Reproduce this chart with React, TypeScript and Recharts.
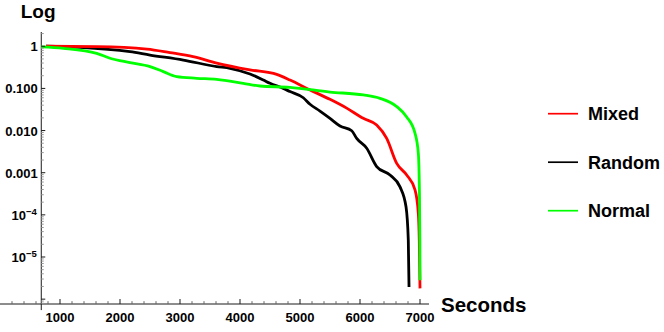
import React from 'react';
import { LineChart, Line, XAxis, YAxis, ReferenceLine, Legend } from 'recharts';

// ---------- data ----------
const mixedSeconds = [767, 1612, 2450, 2833, 3217, 3612, 4167, 4612, 4833, 5167, 5500, 5778, 6055, 6278, 6445, 6612, 6778, 6917, 6972, 6988, 7000];
const mixedValues = [1.0, 0.98, 0.86, 0.71, 0.57, 0.4, 0.275, 0.215, 0.158, 0.092, 0.055, 0.034, 0.0195, 0.0135, 0.0065, 0.00166, 0.00088, 0.00039, 0.000108, 0.000025, 0.0000018];

const randomSeconds = [767, 1333, 2167, 2500, 3055, 3612, 3833, 4167, 4389, 4500, 4722, 4833, 5055, 5167, 5333, 5500, 5667, 5862, 5945, 6112, 6278, 6500, 6667, 6767, 6805, 6817];
const randomValues = [1.0, 0.946, 0.744, 0.62, 0.47, 0.33, 0.3, 0.22, 0.158, 0.132, 0.1, 0.084, 0.06, 0.042, 0.029, 0.0195, 0.0128, 0.0099, 0.0065, 0.0038, 0.0014, 0.00088, 0.00046, 0.000155, 0.000025, 0.00000195];

const normalSeconds = [688, 1055, 1612, 1833, 2167, 2500, 2722, 2945, 3278, 3612, 4055, 4333, 4833, 5500, 6055, 6333, 6612, 6778, 6917, 6972, 6990, 6998, 7000];
const normalValues = [0.97, 0.896, 0.68, 0.52, 0.41, 0.33, 0.25, 0.19, 0.174, 0.164, 0.132, 0.114, 0.106, 0.082, 0.07, 0.058, 0.037, 0.021, 0.0086, 0.0029, 0.0004, 0.000025, 0.0000028];

const seriesNames = ['Mixed', 'Random', 'Normal'];
const seriesColors = ['#ff0000', '#000000', '#00ff00'];

const xMajorTicks = [1000, 2000, 3000, 4000, 5000, 6000, 7000];
const xMinorStep = 200;
const yMajorTicks = [1, 0.1, 0.01, 0.001, 0.0001, 0.00001];
const yMajorLabels = ['1', '0.100', '0.010', '0.001', '10^-4', '10^-5'];

const xTitle = 'Seconds';
const yTitle = 'Log';

// ---------- layout ----------
const W = 664;
const H = 332;
const Y_AXIS_W = 1;
const MARGIN = { top: 32, right: 235, bottom: 0, left: -Y_AXIS_W };
const X_AXIS_H = 28;
const PLOT_LEFT = MARGIN.left + Y_AXIS_W;
const PLOT_W = W - PLOT_LEFT - MARGIN.right;
const X_DOMAIN: [number, number] = [0, 7150];
const Y_DOMAIN: [number, number] = [7.67e-7, 2.18];
const Y_AXIS_AT = 688; // x value where the vertical axis crosses
const Y_AXIS_BOTTOM = 5.5e-7; // vertical axis overshoots a little below the x axis
const FONT = '"Liberation Sans", Arial, Helvetica, sans-serif';
const AXIS_COLOR = '#1a1a1a';

const yAxisPx = PLOT_LEFT + ((Y_AXIS_AT - X_DOMAIN[0]) / (X_DOMAIN[1] - X_DOMAIN[0])) * PLOT_W;

const toPoints = (xs: number[], ys: number[]) => xs.map((x, i) => ({ x, y: ys[i] }));
const mixedData = toPoints(mixedSeconds, mixedValues);
const randomData = toPoints(randomSeconds, randomValues);
const normalData = toPoints(normalSeconds, normalValues);
const seriesData = [mixedData, randomData, normalData];

const xTicks: number[] = [];
for (let v = xMinorStep; v <= 7000; v += xMinorStep) xTicks.push(v);

const yTicks: number[] = [];
for (let k = -7; k <= 0; k++) {
  for (let m = 1; m <= 9; m++) {
    const v = m * Math.pow(10, k);
    if (v >= Y_DOMAIN[0] && v <= Y_DOMAIN[1]) yTicks.push(Number(v.toPrecision(3)));
  }
}

const XTick = (props: any) => {
  const { x, y, payload } = props;
  const v = payload.value;
  const major = xMajorTicks.includes(v);
  return (
    <g>
      <line x1={x} x2={x} y1={y} y2={y - (major ? 5 : 2.8)} stroke={major ? AXIS_COLOR : '#666'} strokeWidth={1} />
      {major && (
        <text x={x} y={y + 17.7} textAnchor="middle" fontFamily={FONT} fontWeight="bold" fontSize={13} fill="#000">
          {v}
        </text>
      )}
    </g>
  );
};

const YTick = (props: any) => {
  const { y, payload } = props;
  const v = payload.value;
  const idx = yMajorTicks.findIndex((t) => Math.abs(t - v) / t < 1e-6);
  const major = idx >= 0 || Math.abs(v - 1e-6) / 1e-6 < 1e-6;
  const label = idx >= 0 ? yMajorLabels[idx] : null;
  let labelNode: React.ReactNode = null;
  if (label) {
    if (label.includes('^')) {
      const [base, exp] = label.split('^');
      labelNode = (
        <text x={yAxisPx - 4.5} y={y + 5} textAnchor="end" fontFamily={FONT} fontWeight="bold" fontSize={13} fill="#000">
          {base}
          <tspan dy={-5} fontSize={9.5}>{exp.replace('-', '\u2212')}</tspan>
        </text>
      );
    } else {
      labelNode = (
        <text x={yAxisPx - 3.5} y={y + 5} textAnchor="end" fontFamily={FONT} fontWeight="bold" fontSize={13} fill="#000">
          {label}
        </text>
      );
    }
  }
  return (
    <g>
      <line x1={yAxisPx} x2={yAxisPx + (major ? 4 : 2.5)} y1={y} y2={y} stroke={major ? AXIS_COLOR : '#999'} strokeWidth={1} />
      {labelNode}
    </g>
  );
};

const LegendContent = () => (
  <svg width={124} height={140} style={{ overflow: 'visible' }}>
    {seriesNames.map((name, i) => {
      const cy = 18.7 + i * 48.5;
      return (
        <g key={name}>
          <line x1={8} x2={38} y1={cy} y2={cy} stroke={seriesColors[i]} strokeWidth={1.7} />
          <text x={48} y={cy + 6.3} fontFamily={FONT} fontWeight="bold" fontSize={18} fill="#000">
            {name}
          </text>
        </g>
      );
    })}
  </svg>
);

export default function App() {
  return (
    <div style={{ position: 'absolute', left: 0, top: 0, width: W, height: H, background: '#fff' }}>
      <LineChart width={W} height={H} margin={MARGIN}>
        <XAxis
          type="number"
          dataKey="x"
          domain={X_DOMAIN}
          allowDataOverflow
          ticks={xTicks}
          interval={0}
          tickSize={0}
          tickMargin={0}
          tickLine={false}
          axisLine={{ stroke: AXIS_COLOR, strokeWidth: 1 }}
          height={X_AXIS_H}
          tick={<XTick />}
        />
        <YAxis
          type="number"
          dataKey="y"
          scale="log"
          domain={Y_DOMAIN}
          allowDataOverflow
          ticks={yTicks}
          interval={0}
          width={Y_AXIS_W}
          tickSize={0}
          tickMargin={0}
          tickLine={false}
          axisLine={false}
          tick={<YTick />}
        />
        <ReferenceLine
          segment={[{ x: Y_AXIS_AT, y: Y_AXIS_BOTTOM }, { x: Y_AXIS_AT, y: Y_DOMAIN[1] }]}
          ifOverflow="visible"
          stroke={AXIS_COLOR}
          strokeWidth={1}
        />
        <Legend
          layout="vertical"
          align="center"
          verticalAlign="middle"
          content={<LegendContent />}
          wrapperStyle={{ left: 540, top: 95, width: 124, height: 140 }}
        />
        {[1, 0, 2].map((i) => (
          <Line
            key={seriesNames[i]}
            data={seriesData[i]}
            dataKey="y"
            name={seriesNames[i]}
            type="monotoneX"
            stroke={seriesColors[i]}
            strokeWidth={2.8}
            dot={false}
            activeDot={false}
            isAnimationActive={false}
          />
        ))}
        <text x={20.7} y={18.3} fontFamily={FONT} fontWeight="bold" fontSize={19} fill="#000">
          {yTitle}
        </text>
        <text x={441} y={311.7} fontFamily={FONT} fontWeight="bold" fontSize={20.5} fill="#000">
          {xTitle}
        </text>
      </LineChart>
    </div>
  );
}
